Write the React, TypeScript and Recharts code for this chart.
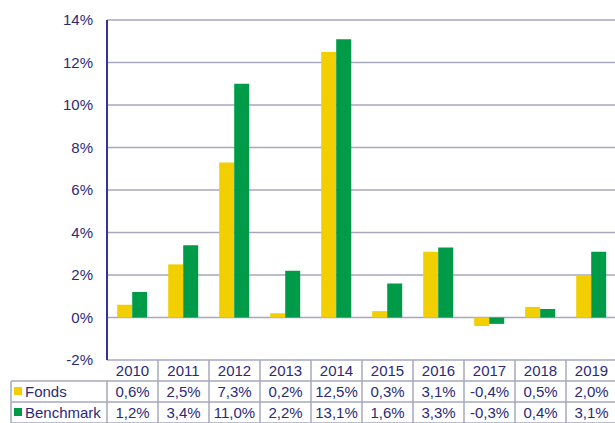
import { Bar, BarChart, CartesianGrid, XAxis, YAxis } from "recharts";

const years = ["2010", "2011", "2012", "2013", "2014", "2015", "2016", "2017", "2018", "2019"];
const fonds = [0.6, 2.5, 7.3, 0.2, 12.5, 0.3, 3.1, -0.4, 0.5, 2.0];
const benchmark = [1.2, 3.4, 11.0, 2.2, 13.1, 1.6, 3.3, -0.3, 0.4, 3.1];
const yTicks = [-2, 0, 2, 4, 6, 8, 10, 12, 14];

const data = years.map((year, i) => ({ year, fonds: fonds[i], benchmark: benchmark[i] }));

const CHART_W = 617;
const CHART_H = 450;
const Y_W = 107;
const COL_W = (CHART_W - Y_W) / years.length;
const ROW_H = 21;

const NAVY = "#2b2a78";
const BORDER = "#a7a7c0";
const YELLOW = "#f2cf00";
const GREEN = "#009b48";

const pct = (v: number) => `${v.toFixed(1).replace(".", ",")}%`;

const TableTick = (props: any) => {
  const { x, y, index } = props;
  const left = x - COL_W / 2;
  const right = x + COL_W / 2;
  const font = { fontFamily: "Liberation Sans, Arial, sans-serif", fontSize: 15, fill: NAVY };
  return (
    <g>
      <line x1={right} y1={y} x2={right} y2={y + ROW_H * 4} stroke={BORDER} strokeWidth={1.5} />
      <line x1={left} y1={y + ROW_H} x2={right} y2={y + ROW_H} stroke={BORDER} strokeWidth={1.5} />
      <line x1={left} y1={y + ROW_H * 2} x2={right} y2={y + ROW_H * 2} stroke={BORDER} strokeWidth={1.5} />
      <line x1={left} y1={y + ROW_H * 3} x2={right} y2={y + ROW_H * 3} stroke={BORDER} strokeWidth={1.5} />
      <text x={x} y={y + 16} textAnchor="middle" {...font}>{years[index]}</text>
      <text x={x} y={y + ROW_H + 16} textAnchor="middle" {...font}>{pct(fonds[index])}</text>
      <text x={x} y={y + ROW_H * 2 + 16} textAnchor="middle" {...font}>{pct(benchmark[index])}</text>
      {index === 0 && (
        <g>
          <line x1={11} y1={y + ROW_H} x2={left} y2={y + ROW_H} stroke={BORDER} strokeWidth={1.5} />
          <line x1={11} y1={y + ROW_H * 2} x2={left} y2={y + ROW_H * 2} stroke={BORDER} strokeWidth={1.5} />
          <line x1={11} y1={y + ROW_H * 3} x2={left} y2={y + ROW_H * 3} stroke={BORDER} strokeWidth={1.5} />
          <line x1={11} y1={y + ROW_H} x2={11} y2={y + ROW_H * 4} stroke={BORDER} strokeWidth={1.5} />
          <line x1={left} y1={y + ROW_H} x2={left} y2={y + ROW_H * 4} stroke={BORDER} strokeWidth={1.5} />
          <rect x={14} y={y + ROW_H + 6} width={8} height={8} fill={YELLOW} />
          <text x={25} y={y + ROW_H + 16} {...font}>Fonds</text>
          <rect x={14} y={y + ROW_H * 2 + 6} width={8} height={8} fill={GREEN} />
          <text x={25} y={y + ROW_H * 2 + 16} {...font}>Benchmark</text>
        </g>
      )}
    </g>
  );
};

export default function App() {
  return (
    <div style={{ position: "absolute", left: 0, top: 0, width: 615, height: 423, overflow: "hidden", background: "#fff" }}>
      <BarChart
        width={CHART_W}
        height={CHART_H}
        data={data}
        margin={{ top: 20, right: 0, bottom: 0, left: 0 }}
        barCategoryGap="20%"
        barGap={0}
      >
        <CartesianGrid vertical={false} stroke={BORDER} strokeWidth={1.5} />
        <XAxis
          dataKey="year"
          axisLine={false}
          tickLine={false}
          tickSize={0}
          tickMargin={0}
          height={CHART_H - 20 - 340}
          interval={0}
          tick={<TableTick />}
        />
        <YAxis
          width={Y_W}
          domain={[-2, 14]}
          ticks={yTicks}
          interval={0}
          tickFormatter={(v) => `${v}%`}
          axisLine={{ stroke: "#34349a", strokeWidth: 2 }}
          tickLine={false}
          tickSize={0}
          tickMargin={14}
          tick={{ fill: NAVY, fontSize: 15, fontFamily: "Liberation Sans, Arial, sans-serif" }}
        />
        <Bar dataKey="fonds" fill={YELLOW} isAnimationActive={false} />
        <Bar dataKey="benchmark" fill={GREEN} isAnimationActive={false} />
      </BarChart>
    </div>
  );
}
